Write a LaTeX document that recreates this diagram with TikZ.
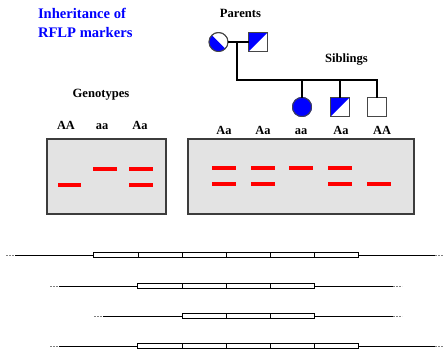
\documentclass[tikz,border=0pt]{standalone}
\usepackage{fontspec}
\setmainfont{Liberation Serif}
\begin{document}
\begin{tikzpicture}[x=1pt,y=-1pt,
  every node/.style={inner sep=0pt,outer sep=0pt},
  title/.style={font=\fontsize{14.6}{17}\selectfont\bfseries,text=pedblue,anchor=base west},
  heading/.style={font=\fontsize{12.6}{14}\selectfont\bfseries,anchor=base},
  geno/.style={font=\fontsize{12.4}{14}\selectfont\bfseries,anchor=base},
  female/.style={circle,draw=symline,line width=0.9pt,minimum size=19pt},
  male/.style={rectangle,draw=symline,line width=0.9pt,minimum size=19pt},
  pedline/.style={line width=1.8pt,black},
  gel/.style={draw=gelline,fill=gelfill,line width=1.1pt},
  band/.style={red,line width=3.4pt},
  dna/.style={black,line width=0.9pt},
  dnaend/.style={gray,line width=0.9pt,dash pattern=on 2pt off 1pt},
  seg/.style={draw=black,fill=white,line width=0.9pt}]
\definecolor{pedblue}{RGB}{0,0,255}
\definecolor{symline}{RGB}{70,70,70}
\definecolor{gelline}{RGB}{60,60,60}
\definecolor{gelfill}{RGB}{227,227,227}
\useasboundingbox (0,0) rectangle (444,348);

% title
\node[title] (t1) at (38,18) {Inheritance of};
\node[title] (t2) at (38,37) {RFLP markers};

% headings
\node[heading] (hpar) at (240.5,17) {Parents};
\node[heading] (hsib) at (346.5,62) {Siblings};
\node[heading] (hgen) at (101,97) {Genotypes};

% pedigree
\node[female] (mother) at (218.5,42) {};
\node[male] (father) at (258,42) {};
\node[female] (c1) at (302,107) {};
\node[male] (c2) at (340,107) {};
\node[male] (c3) at (377,107) {};
% fills of the symbols
\fill[pedblue] (mother.center) ++(45:9.5) arc[start angle=45,end angle=225,radius=9.5] -- cycle;
\fill[pedblue] (father.north west) -- (father.north east) -- (father.south west) -- cycle;
\fill[pedblue] (c1.center) circle[radius=10];
\fill[pedblue] (c2.north west) -- (c2.north east) -- (c2.south west) -- cycle;
\node[female] at (mother) {};
\node[male] at (father) {};
\node[female] at (c1) {};
\node[male] at (c2) {};
\node[male] at (c3) {};

\coordinate (mid) at (237,42);
\coordinate (bar) at (237,80);
\draw[pedline] (mother.east) -- (father.west);
\draw[pedline] (mid) -- (bar) -| (c3.north);
\draw[pedline] (c1.north) -- ++(0,-17);
\draw[pedline] (c2.north) -- ++(0,-17);

% gels
\draw[gel] (47,139) rectangle (166,214);
\draw[gel] (188,139) rectangle (414,214);

\node[geno] (g1) at (66,129) {AA};
\node[geno] (g2) at (102,129) {aa};
\node[geno] (g3) at (140,129) {Aa};
\node[geno] (s1) at (224,134) {Aa};
\node[geno] (s2) at (263,134) {Aa};
\node[geno] (s3) at (301,134) {aa};
\node[geno] (s4) at (341,134) {Aa};
\node[geno] (s5) at (382,134) {AA};

% bands
\draw[band] (58,185) -- (81,185);
\draw[band] (93,169) -- (117,169);
\draw[band] (129,169) -- (153,169);
\draw[band] (129,185) -- (153,185);
\foreach \x in {212,251,328} {
  \draw[band] (\x,168) -- ++(24,0);
  \draw[band] (\x,184) -- ++(24,0);
}
\draw[band] (289,168) -- ++(24,0);
\draw[band] (367,184) -- ++(24,0);

% DNA fragments
% row 1
\draw[dnaend] (6,255) -- (15,255);
\draw[dna] (15,255) -- (93,255);
\draw[seg] (93,252.5) rectangle (358,257.5);
\foreach \x in {138,182,226,270,314} \draw[dna] (\x,252.5) -- (\x,257.5);
\draw[dna] (358,255) -- (435,255);
\draw[dnaend] (435,255) -- (444,255);
% row 2
\draw[dnaend] (50,286) -- (59,286);
\draw[dna] (59,286) -- (137,286);
\draw[seg] (137,283.5) rectangle (314,288.5);
\foreach \x in {182,226,270} \draw[dna] (\x,283.5) -- (\x,288.5);
\draw[dna] (314,286) -- (393,286);
\draw[dnaend] (393,286) -- (402,286);
% row 3
\draw[dnaend] (94,316) -- (103,316);
\draw[dna] (103,316) -- (182,316);
\draw[seg] (182,313.5) rectangle (314,318.5);
\foreach \x in {226,270} \draw[dna] (\x,313.5) -- (\x,318.5);
\draw[dna] (314,316) -- (393,316);
\draw[dnaend] (393,316) -- (402,316);
% row 4
\draw[dnaend] (50,346) -- (59,346);
\draw[dna] (59,346) -- (137,346);
\draw[seg] (137,343.5) rectangle (358,348.5);
\foreach \x in {182,226,270,314} \draw[dna] (\x,343.5) -- (\x,348.5);
\draw[dna] (358,346) -- (435,346);
\draw[dnaend] (435,346) -- (444,346);
\end{tikzpicture}
\end{document}
